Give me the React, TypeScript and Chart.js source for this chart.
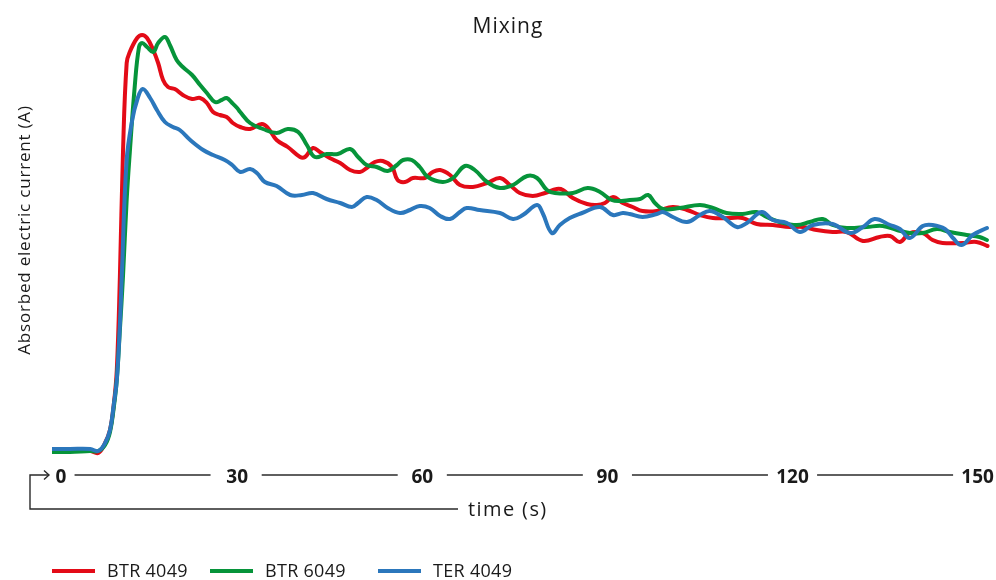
import React, { useEffect, useRef } from "react";
import { Chart, registerables } from "chart.js";

Chart.register(...registerables);

// ---- Data (time in s, absorbed current in arbitrary units) ----
const redTime = [0,2.9,6.2,7.5,8.6,9.4,10.0,10.5,11.0,11.5,12.1,12.6,13.8,14.6,15.4,16.4,17.2,18.0,18.8,19.9,21.2,22.7,24.0,25.1,26.1,27.2,28.3,29.3,30.5,32.1,34.0,35.0,36.4,38.2,40.2,41.0,42.3,43.4,45.0,46.7,48.3,49.9,51.0,52.3,53.6,55.1,56.0,57.2,58.5,60.4,61.7,62.9,64.5,66.1,68.2,70.5,72.6,74.2,75.8,77.9,79.9,81.8,82.8,84.4,86.7,88.3,89.6,90.9,92.5,94.1,95.7,98.0,100.6,102.9,105.0,107.1,109.8,111.9,114.2,116.8,119.6,121.7,123.9,126.5,128.8,131.4,134.1,135.8,137.4,139.0,141.1,142.7,144.3,147.6,149.8,151.6];
const redCurrent = [3.8,3.8,3.8,3.4,5.4,8.0,13.0,20.0,38.6,63.4,81.4,83.6,86.4,87.0,86.4,84.0,81.4,78.0,76.6,76.2,75.0,74.2,74.4,73.4,71.6,71.0,70.6,69.4,68.6,68.2,69.2,68.4,66.0,64.6,62.6,62.6,64.4,63.6,62.4,61.4,60.0,59.6,60.4,61.6,61.8,60.6,58.0,57.6,58.4,58.4,59.6,60.0,59.0,57.0,56.6,57.4,58.4,57.0,55.4,54.8,55.4,56.2,56.0,54.4,53.2,53.0,53.4,54.6,53.4,52.6,51.8,51.8,52.6,52.0,51.0,50.4,50.4,50.4,49.2,49.0,48.6,48.6,48.0,47.6,47.6,45.8,46.6,46.8,45.6,47.4,47.4,46.0,45.4,45.4,45.6,44.8];

const greenTime = [0,2.9,6.2,7.5,8.6,9.4,10.0,10.5,11.0,11.5,12.1,12.6,13.4,14.1,14.6,15.4,16.4,17.2,18.3,19.1,20.2,21.2,22.7,24.0,25.1,26.4,27.5,28.3,29.2,30.0,30.5,32.1,34.2,36.4,38.2,39.9,41.3,42.6,44.5,46.3,48.3,49.6,51.0,52.6,54.4,55.9,56.9,58.3,59.6,60.9,63.3,65.0,66.9,68.5,70.5,72.6,74.7,77.0,78.6,80.2,81.5,84.4,86.8,88.8,90.7,92.3,93.6,95.3,96.6,97.7,99.0,101.7,105.0,107.1,109.3,111.9,114.2,115.8,117.9,120.7,122.8,124.9,126.5,128.8,132.0,134.6,136.9,139.0,141.1,143.4,145.5,148.2,150.3,151.5];
const greenCurrent = [3.6,3.6,3.8,3.8,5.0,7.6,12.4,18.0,28.0,38.6,54.0,63.4,76.6,84.6,85.4,84.6,83.6,85.4,86.6,85.0,82.0,80.6,79.0,77.0,75.4,73.6,74.0,74.4,73.4,72.4,71.6,69.4,68.2,67.4,68.2,67.6,65.0,62.6,63.2,63.2,64.2,62.6,61.0,60.6,59.8,61.0,62.0,62.0,60.6,58.6,57.6,58.4,60.8,60.0,57.6,56.4,57.0,58.8,58.4,56.0,55.4,55.4,56.4,55.6,54.0,53.8,54.0,54.2,55.0,53.4,52.2,52.4,53.0,52.4,51.4,51.2,51.6,50.6,49.6,49.0,49.6,50.2,49.0,48.4,48.6,48.8,48.0,47.4,47.4,48.2,47.6,47.0,46.6,46.0];

const blueTime = [0,2.9,6.2,7.5,8.6,9.4,10.0,10.5,11.0,11.3,12.1,13.0,13.8,14.7,15.9,17.0,18.3,19.6,20.7,22.4,24.5,26.1,28.0,29.2,30.5,32.1,33.2,34.5,36.4,38.6,40.5,42.3,44.5,46.7,48.6,49.6,51.0,52.6,54.4,56.4,58.0,59.6,61.2,62.9,64.5,66.1,67.2,69.3,72.6,74.7,76.3,78.6,79.5,81.0,82.3,83.9,85.9,88.8,90.9,92.5,93.6,95.7,98.0,99.0,100.6,102.9,105.0,106.6,108.7,111.0,112.6,115.0,116.8,119.1,121.2,123.3,126.5,129.3,131.4,133.3,135.8,137.4,139.0,141.1,142.7,144.7,146.0,147.4,149.2,151.5];
const blueCurrent = [4.2,4.2,4.2,3.8,5.4,8.0,13.0,18.0,29.0,38.6,62.0,70.0,74.0,76.2,74.4,72.0,69.6,68.6,68.0,66.0,64.0,63.0,62.0,61.0,59.6,60.2,59.4,57.6,56.8,55.0,55.0,55.4,54.2,53.4,52.6,53.4,54.6,54.0,52.4,51.4,52.0,52.8,52.4,50.8,50.2,51.6,52.4,52.0,51.4,50.2,51.0,53.0,51.4,47.4,49.0,50.4,51.4,52.6,51.0,51.4,51.2,50.6,51.2,51.6,50.6,49.6,51.0,51.8,50.6,48.6,49.4,51.6,50.0,49.4,47.6,49.0,49.2,47.4,48.6,50.2,49.0,48.2,46.4,48.8,49.0,48.2,46.4,45.0,47.0,48.4];

const xTicks = [0, 30, 60, 90, 120, 150];
const seriesNames = ["BTR 4049", "BTR 6049", "TER 4049"];
const seriesColors = ["#E30B17", "#06943A", "#2B77BC"];
const chartTitle = "Mixing";
const yTitle = "Absorbed electric current (A)";
const xTitle = "time (s)";

const toPoints = (xs: number[], ys: number[]) => xs.map((x, i) => ({ x, y: ys[i] }));

const overlay = {
  id: "overlay",
  afterDraw(chart: any) {
    const ctx: CanvasRenderingContext2D = chart.ctx;
    const xs = chart.scales.x;
    ctx.save();
    ctx.fillStyle = "#1a1a1a";
    ctx.strokeStyle = "#2a2a2a";

    // Title
    ctx.textAlign = "center";
    ctx.textBaseline = "alphabetic";
    (ctx as any).letterSpacing = "1px";
    ctx.font = '400 21px "Open Sans"';
    ctx.fillText(chartTitle, 508, 33);

    // Y title
    ctx.save();
    ctx.translate(30, 230);
    ctx.rotate(-Math.PI / 2);
    (ctx as any).letterSpacing = "0.8px";
    ctx.font = '500 17px "Open Sans"';
    ctx.textAlign = "center";
    ctx.fillText(yTitle, 0, 0);
    ctx.restore();

    // X axis ticks
    const axisY = 475;
    (ctx as any).letterSpacing = "0px";
    ctx.font = '700 19px "Open Sans"';
    ctx.textAlign = "center";
    xTicks.forEach((v, i) => {
      const px = xs.getPixelForValue(v) + (i === 0 ? 9 : 0);
      ctx.fillText(String(v), px, 482.5);
    });
    ctx.lineWidth = 1.4;
    for (let i = 0; i < xTicks.length - 1; i++) {
      const mid = (xs.getPixelForValue(xTicks[i]) + xs.getPixelForValue(xTicks[i + 1])) / 2 - (i === 0 ? 2 : 0);
      ctx.beginPath();
      ctx.moveTo(mid - 68, axisY);
      ctx.lineTo(mid + 68, axisY);
      ctx.stroke();
    }

    // bracket with arrow
    const left = xs.getPixelForValue(0);
    ctx.beginPath();
    ctx.moveTo(left - 3, axisY);
    ctx.lineTo(left - 22, axisY);
    ctx.lineTo(left - 22, 509);
    ctx.lineTo(458, 509);
    ctx.stroke();
    ctx.beginPath();
    ctx.moveTo(left - 8, axisY - 4.5);
    ctx.lineTo(left - 3, axisY);
    ctx.lineTo(left - 8, axisY + 4.5);
    ctx.stroke();

    // X title
    ctx.textAlign = "left";
    (ctx as any).letterSpacing = "1.4px";
    ctx.font = '400 20px "Open Sans"';
    ctx.fillText(xTitle, 468, 516);

    // Legend
    (ctx as any).letterSpacing = "0.3px";
    ctx.font = '400 18px "Open Sans"';
    const starts = [52, 210, 378];
    seriesNames.forEach((name, i) => {
      const x0 = starts[i];
      ctx.fillStyle = seriesColors[i];
      ctx.fillRect(x0, 569, 43, 4);
      ctx.fillStyle = "#1a1a1a";
      ctx.fillText(name, x0 + 55, 577);
    });
    ctx.restore();
  },
};

export default function App() {
  const ref = useRef<HTMLCanvasElement>(null);
  useEffect(() => {
    if (!ref.current) return;
    const mk = (i: number, xsArr: number[], ysArr: number[], order: number) => ({
      label: seriesNames[i],
      data: toPoints(xsArr, ysArr),
      borderColor: seriesColors[i],
      backgroundColor: seriesColors[i],
      borderWidth: 4,
      pointRadius: 0,
      tension: 0.4,
      borderJoinStyle: "round" as const,
      borderCapStyle: "round" as const,
      order,
    });
    const chart = new Chart(ref.current, {
      type: "line",
      data: {
        datasets: [
          mk(0, redTime, redCurrent, 2),
          mk(1, greenTime, greenCurrent, 1),
          mk(2, blueTime, blueCurrent, 0),
        ],
      },
      options: {
        responsive: false,
        animation: false,
        layout: { padding: { left: 52, right: 6, top: 20, bottom: 110 } },
        scales: {
          x: { type: "linear", min: 0, max: 152, display: false },
          y: { type: "linear", min: 0, max: 90, display: false },
        },
        plugins: {
          legend: { display: false },
          tooltip: { enabled: false },
          title: { display: false },
        },
      },
      plugins: [overlay],
    });
    return () => chart.destroy();
  }, []);
  return (
    <div style={{ position: "fixed", left: 0, top: 0, width: 996, height: 580, background: "#fff" }}>
      <canvas ref={ref} width={996} height={580} style={{ display: "block", width: 996, height: 580 }} />
    </div>
  );
}
